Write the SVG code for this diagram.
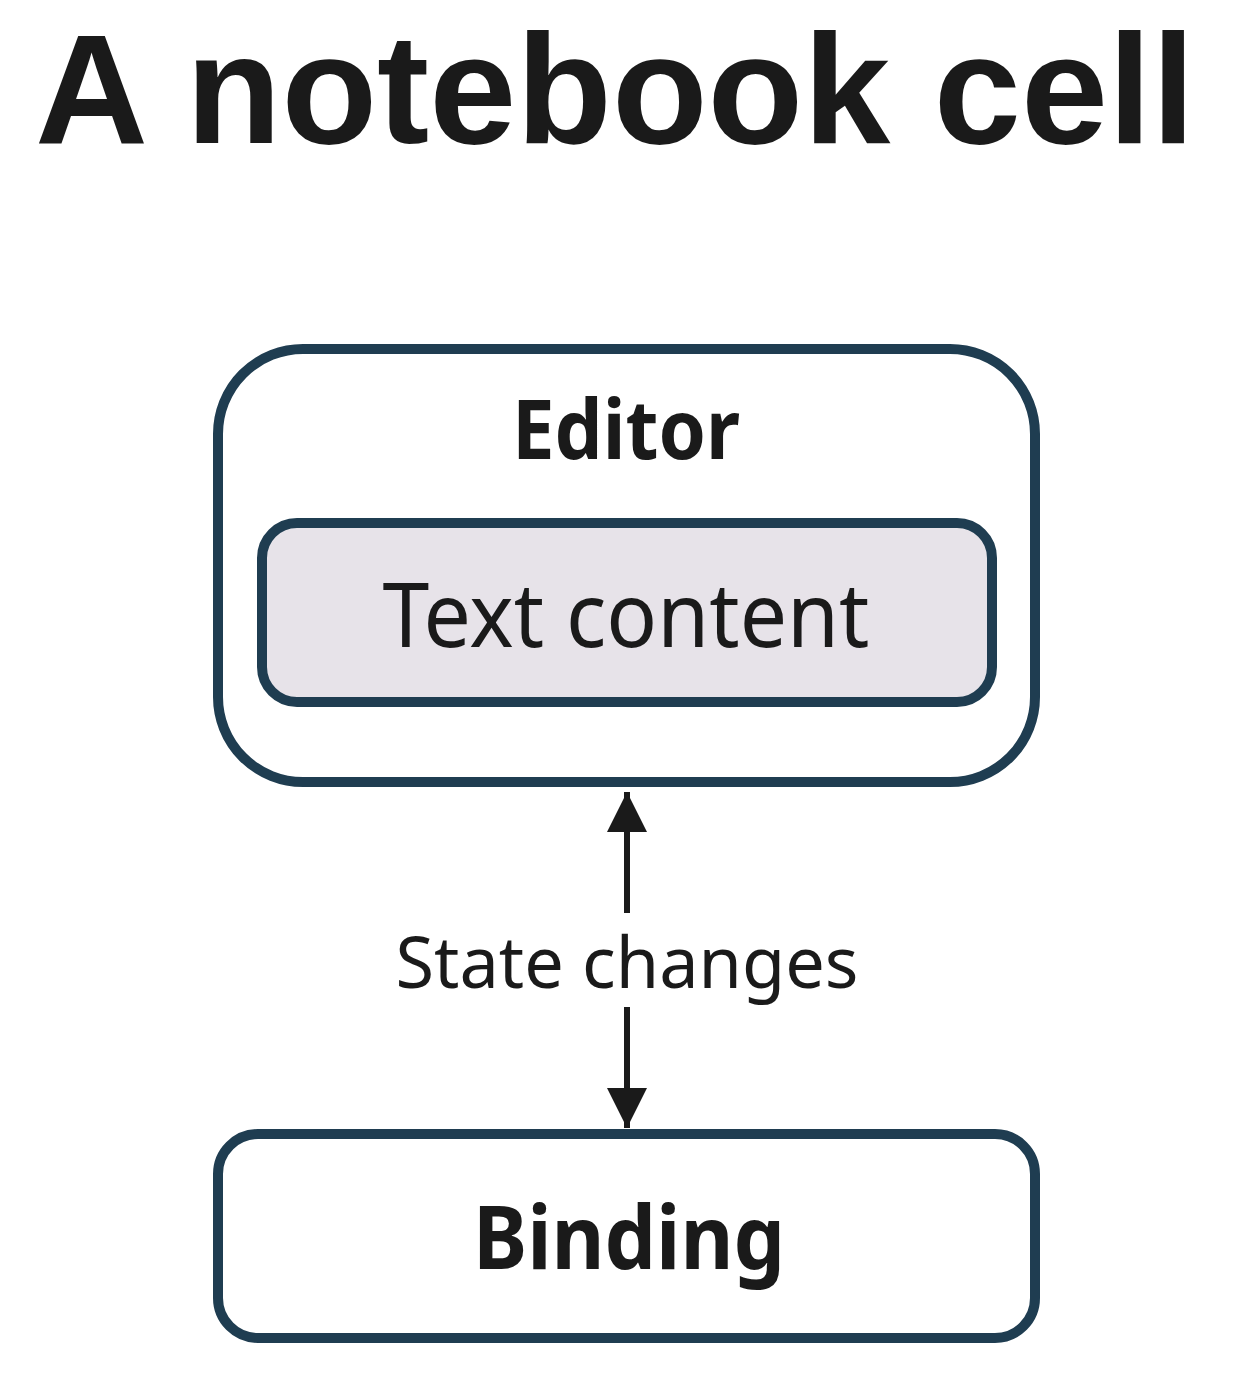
<svg xmlns="http://www.w3.org/2000/svg" width="1238" height="1374" viewBox="0 0 1238 1374">
<defs>
<style>
.box{fill:#ffffff;stroke:#1f3d51;stroke-width:10}
.inner{fill:#e7e3e9;stroke:#1f3d51;stroke-width:10}
.t{font-family:"Noto Sans","Open Sans","DejaVu Sans",sans-serif;fill:#1a1a1a;text-anchor:middle}
.title{font-family:"Liberation Sans",Arial,sans-serif;font-weight:700;fill:#1a1a1a;text-anchor:middle}
.b{font-weight:700}
.edge{stroke:#1a1a1a;stroke-width:6;fill:none}
</style>
<marker id="ah" viewBox="0 0 10 10" refX="10" refY="5" markerWidth="40" markerHeight="40" markerUnits="userSpaceOnUse" orient="auto">
<path d="M0,0 L10,5 L0,10 Z" fill="#1a1a1a"/>
</marker>
</defs>
<rect width="1238" height="1374" fill="#ffffff"/>
<text class="title" x="615" y="143" font-size="156" textLength="1160" lengthAdjust="spacingAndGlyphs">A notebook cell</text>
<g id="editor">
<rect class="box" x="218" y="349" width="817" height="433" rx="85"/>
<text class="t b" x="626" y="459" font-size="82" textLength="228" lengthAdjust="spacingAndGlyphs">Editor</text>
</g>
<g id="text-content">
<rect class="inner" x="262" y="523" width="730" height="179" rx="35"/>
<text class="t" x="626" y="647" font-size="90" textLength="487" lengthAdjust="spacingAndGlyphs">Text content</text>
</g>
<g id="binding">
<rect class="box" x="218" y="1134" width="817" height="204" rx="40"/>
<text class="t b" x="629" y="1269" font-size="88" textLength="312" lengthAdjust="spacingAndGlyphs">Binding</text>
</g>
<g id="connectors">
<line class="edge" x1="627" y1="913" x2="627" y2="792" marker-end="url(#ah)"/>
<line class="edge" x1="627" y1="1007" x2="627" y2="1128" marker-end="url(#ah)"/>
<text class="t" x="627" y="988" font-size="72" textLength="463" lengthAdjust="spacingAndGlyphs">State changes</text>
</g>
</svg>
